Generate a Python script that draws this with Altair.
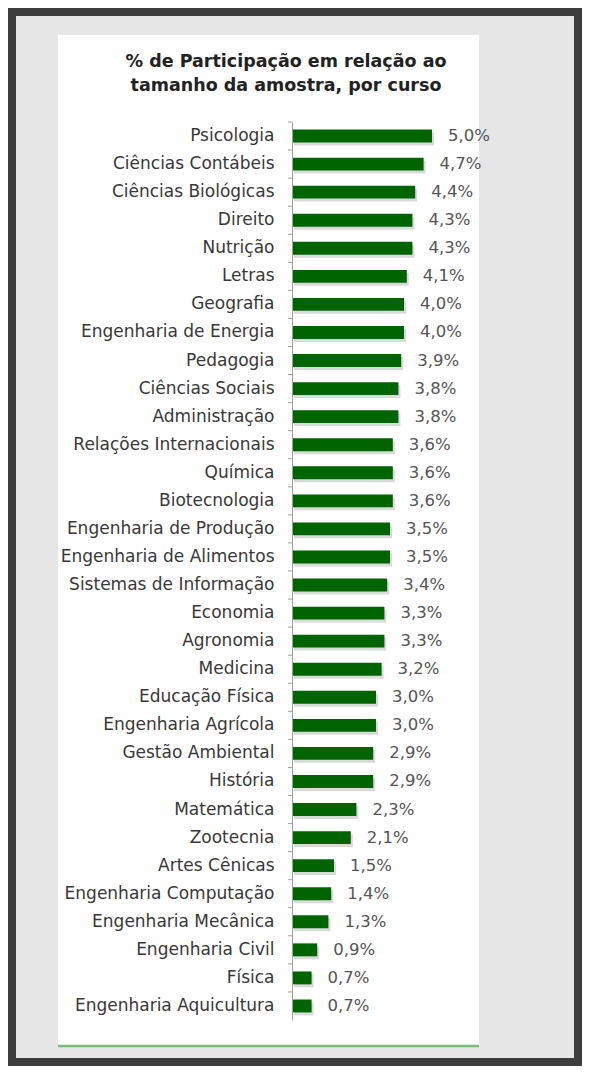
import altair as alt
import pandas as pd

cursos = [
    "Psicologia", "Ciências Contábeis", "Ciências Biológicas", "Direito", "Nutrição",
    "Letras", "Geografia", "Engenharia de Energia", "Pedagogia", "Ciências Sociais",
    "Administração", "Relações Internacionais", "Química", "Biotecnologia",
    "Engenharia de Produção", "Engenharia de Alimentos", "Sistemas de Informação",
    "Economia", "Agronomia", "Medicina", "Educação Física", "Engenharia Agrícola",
    "Gestão Ambiental", "História", "Matemática", "Zootecnia", "Artes Cênicas",
    "Engenharia Computação", "Engenharia Mecânica", "Engenharia Civil", "Física",
    "Engenharia Aquicultura",
]
valores = [
    5.0, 4.7, 4.4, 4.3, 4.3, 4.1, 4.0, 4.0, 3.9, 3.8, 3.8, 3.6, 3.6, 3.6, 3.5, 3.5,
    3.4, 3.3, 3.3, 3.2, 3.0, 3.0, 2.9, 2.9, 2.3, 2.1, 1.5, 1.4, 1.3, 0.9, 0.7, 0.7,
]
titulo = ["% de Participação em relação ao", "tamanho da amostra, por curso"]

df = pd.DataFrame({"curso": cursos, "pct": valores})
dummy = pd.DataFrame({"a": [0]})

FONT = "DejaVu Sans"
W, H = 168, 898
STEP = H / len(cursos)

yenc = alt.Y("curso:N", sort=cursos, title=None,
             scale=alt.Scale(paddingInner=0.54, paddingOuter=0.27),
             axis=alt.Axis(ticks=False, labelPadding=18, labelFontSize=17,
                           labelLimit=0, labelColor="#383838", labelFont=FONT,
                           zindex=2, domainColor="#a39e96", domainWidth=1,
                           grid=False))
xenc = alt.X("pct:Q", scale=alt.Scale(domain=[0, 6]), axis=None)

frame = alt.Chart(dummy).mark_rect(fill="#e6e6e6", stroke="#3d3d3d", strokeWidth=8).encode(
    x=alt.value(-280), x2=alt.value(286), y=alt.value(-110), y2=alt.value(940))
panel = alt.Chart(dummy).mark_rect(fill="white").encode(
    x=alt.value(-234), x2=alt.value(187), y=alt.value(-87), y2=alt.value(925))
gline = alt.Chart(dummy).mark_rule(color="#7dbb7d", strokeWidth=2.5).encode(
    x=alt.value(-234), x2=alt.value(187), y=alt.value(924))

base = alt.Chart(df)
shadow = base.mark_bar(color="#7d8c7d", opacity=0.3, xOffset=2, yOffset=3).encode(x=xenc, y=yenc)
bars = base.mark_bar(color="#006400").encode(x=xenc, y=yenc)
ticks = base.mark_rule(color="#a39e96", strokeWidth=1, yOffset=-STEP / 2).encode(
    y=yenc, x=alt.value(-4), x2=alt.value(0))
labels = base.mark_text(align="left", baseline="middle", dx=16, fontSize=16.5,
                        font=FONT, color="#555555").transform_calculate(
    rot="replace(format(datum.pct, '.1f'), '.', ',') + '%'"
).encode(x=xenc, y=yenc, text="rot:N")

chart = alt.layer(frame, panel, gline, shadow, bars, ticks, labels).properties(
    width=W, height=H,
    background="#e6e6e6",
    padding={"left": 284, "top": 114, "right": 122, "bottom": 46},
    autosize=alt.AutoSizeParams(type="none"),
    title=alt.TitleParams(text=titulo, anchor="middle", dx=-90, fontSize=17.5,
                          font=FONT, fontWeight="bold", color="#222222",
                          lineHeight=24, offset=0, dy=86),
).configure_view(strokeWidth=0)

chart.save("out.html", embed_options={"renderer": "svg", "actions": False})
